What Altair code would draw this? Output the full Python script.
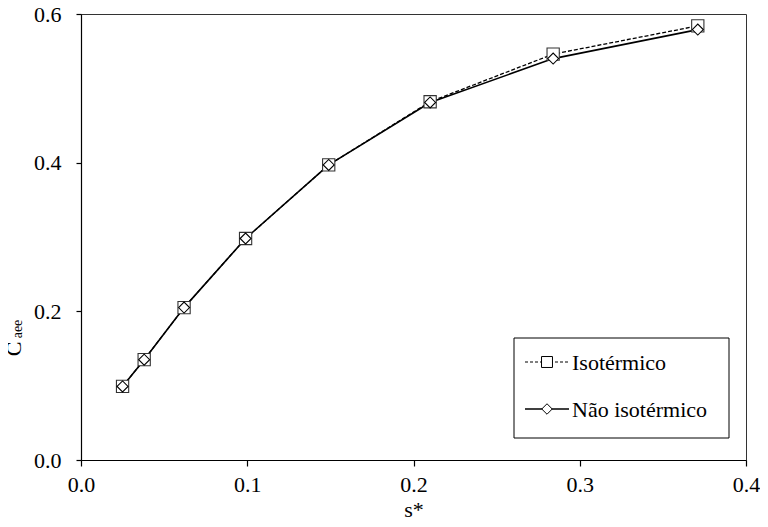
import altair as alt
import pandas as pd

# ---- data ----
s_star = [0.025, 0.038, 0.062, 0.099, 0.149, 0.210, 0.284, 0.371]
c_iso = [0.099, 0.135, 0.205, 0.298, 0.397, 0.482, 0.546, 0.584]
c_noniso = [0.099, 0.135, 0.205, 0.298, 0.397, 0.481, 0.540, 0.579]
series_names = ["Isotérmico", "Não isotérmico"]
x_ticks = [0.0, 0.1, 0.2, 0.3, 0.4]
y_ticks = [0.0, 0.2, 0.4, 0.6]

df = pd.DataFrame({
    "s": s_star + s_star,
    "c": c_iso + c_noniso,
    "serie": [series_names[0]] * len(s_star) + [series_names[1]] * len(s_star),
})
legend_df = pd.DataFrame({"serie": series_names})
title_df = pd.DataFrame({"t": ["C", "aee"]})

FONT = "Liberation Serif"
W, H = 665, 446

x = alt.X("s:Q", scale=alt.Scale(domain=[0, 0.4], nice=False, zero=False),
          axis=alt.Axis(values=x_ticks, format=".1f", title="s*", tickSize=6,
                        labelPadding=8, titlePadding=4, labelFlush=False,
                        labelOverlap=False))
y = alt.Y("c:Q", scale=alt.Scale(domain=[0, 0.6], nice=False),
          axis=alt.Axis(values=y_ticks, format=".1f", title=None, tickSize=5,
                        labelPadding=15, labelFlush=False, labelOverlap=False))

base = alt.Chart(df)
iso = alt.datum.serie == series_names[0]
non = alt.datum.serie == series_names[1]

iso_line = base.transform_filter(iso).mark_line(
    color="black", strokeWidth=1.3, strokeDash=[4, 2]).encode(x=x, y=y)
non_line = base.transform_filter(non).mark_line(
    color="black", strokeWidth=1.6).encode(x=x, y=y)
iso_pts = base.transform_filter(iso).mark_point(
    shape="square", size=150, filled=True, fill="white", stroke="#333",
    strokeWidth=1.1, opacity=1).encode(x=x, y=y)
non_pts = base.transform_filter(non).mark_point(
    shape="diamond", size=120, filled=True, fill="white", stroke="black",
    strokeWidth=1.1, opacity=1).encode(x=x, y=y)

# ---- legend box ----
leg = alt.Chart(legend_df)
leg_box = leg.transform_filter(iso).mark_rect(
    fill="white", stroke="black", strokeWidth=1).encode(
    x=alt.value(433), x2=alt.value(648), y=alt.value(324), y2=alt.value(424))
leg_line1 = leg.transform_filter(iso).mark_rule(
    color="black", strokeWidth=1.2, strokeDash=[3, 2]).encode(
    x=alt.value(444), x2=alt.value(488), y=alt.value(348))
leg_line2 = leg.transform_filter(non).mark_rule(
    color="black", strokeWidth=1.5).encode(
    x=alt.value(444), x2=alt.value(488), y=alt.value(395))
leg_sym1 = leg.transform_filter(iso).mark_point(
    shape="square", size=120, filled=True, fill="white", stroke="black",
    strokeWidth=1, opacity=1).encode(x=alt.value(466), y=alt.value(348))
leg_sym2 = leg.transform_filter(non).mark_point(
    shape="diamond", size=110, filled=True, fill="white", stroke="black",
    strokeWidth=1, opacity=1).encode(x=alt.value(466), y=alt.value(395))
leg_txt1 = leg.transform_filter(iso).mark_text(
    align="left", baseline="middle", font=FONT, fontSize=22, color="black").encode(
    x=alt.value(491), y=alt.value(349), text="serie:N")
leg_txt2 = leg.transform_filter(non).mark_text(
    align="left", baseline="middle", font=FONT, fontSize=22, color="black").encode(
    x=alt.value(491), y=alt.value(396), text="serie:N")

# ---- y-axis title with subscript ----
tt = alt.Chart(title_df)
ytitle_c = tt.transform_filter(alt.datum.t == "C").mark_text(
    angle=270, align="center", baseline="middle", font=FONT, fontSize=22,
    color="black").encode(x=alt.value(-67), y=alt.value(335), text="t:N")
ytitle_sub = tt.transform_filter(alt.datum.t == "aee").mark_text(
    angle=270, align="center", baseline="middle", font=FONT, fontSize=14,
    color="black").encode(x=alt.value(-63), y=alt.value(315), text="t:N")

chart = alt.layer(
    iso_line, non_line, iso_pts, non_pts,
    leg_box, leg_line1, leg_line2, leg_sym1, leg_sym2, leg_txt1, leg_txt2,
    ytitle_c, ytitle_sub,
).properties(
    width=W, height=H,
    autosize=alt.AutoSizeParams(type="none"),
    padding={"left": 73, "top": 6, "right": 14, "bottom": 59},
    background="white",
).configure_view(
    stroke="#333", strokeWidth=1
).configure_axis(
    grid=False, domainColor="black", tickColor="black", domainWidth=1.2,
    tickWidth=1.2, labelFont=FONT, labelFontSize=22, labelColor="black",
    titleFont=FONT, titleFontSize=22, titleColor="black", titleFontWeight="normal",
)

chart.save("out.html", embed_options={"renderer": "svg", "actions": False})
